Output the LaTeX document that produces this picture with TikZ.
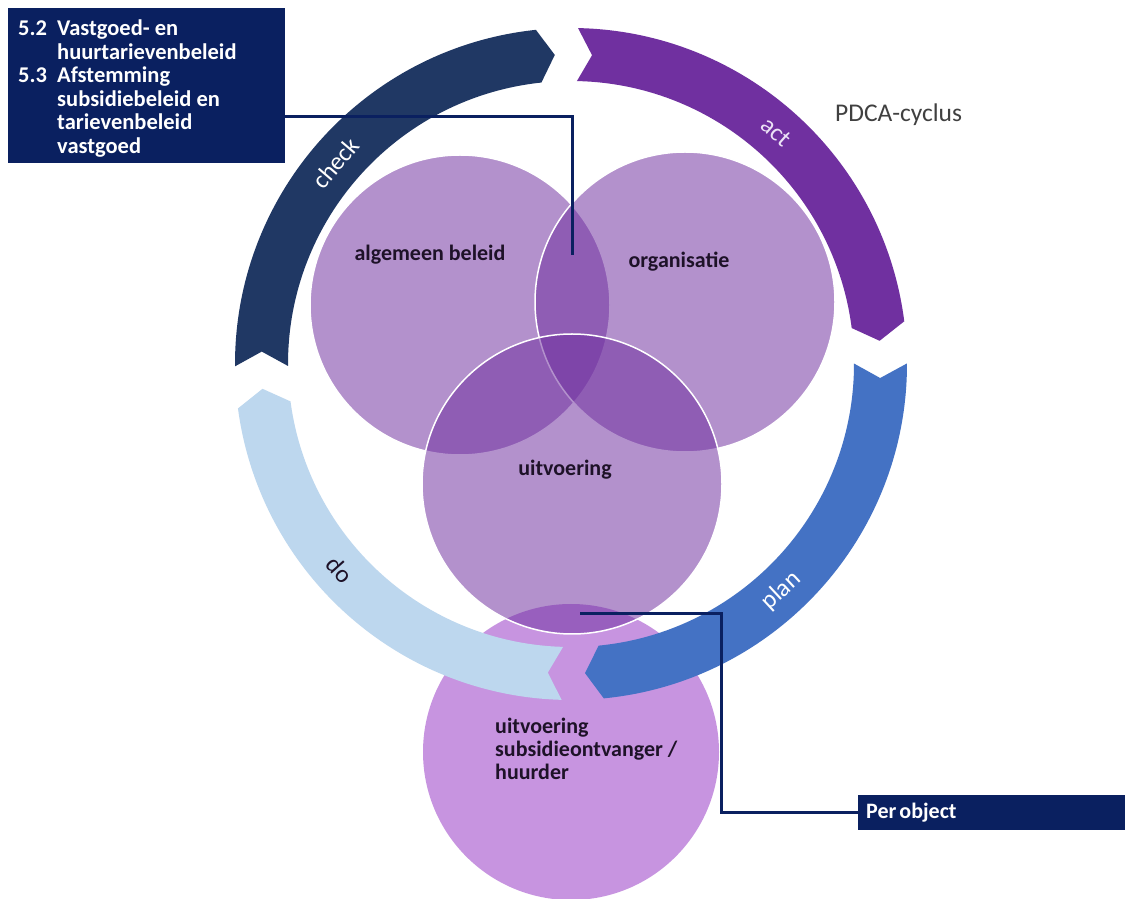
\documentclass[tikz,border=0pt]{standalone}
\usepackage{fontspec}
\setmainfont{Carlito}
\usetikzlibrary{calc}
\definecolor{navybox}{RGB}{10,32,96}
\definecolor{checkc}{RGB}{32,56,100}
\definecolor{actc}{RGB}{112,48,160}
\definecolor{planc}{RGB}{68,114,196}
\definecolor{doc}{RGB}{189,215,238}
\definecolor{circc}{RGB}{112,48,160}
\definecolor{botc}{RGB}{199,148,224}
\definecolor{labc}{RGB}{30,18,40}
\definecolor{greyt}{RGB}{64,64,64}
\definecolor{actt}{RGB}{236,226,246}
\newcommand\ringarrow[3]{%
  \fill[#1] ($(C)+(#2:336)$) arc[start angle=#2, end angle=#3, radius=336pt]
    -- ($(C)+({#3-3}:309.5)$) -- ($(C)+(#3:283)$)
    arc[start angle=#3, end angle=#2, radius=283pt]
    -- ($(C)+({#2-2.7}:309.5)$) -- cycle;}
\begin{document}
\begin{tikzpicture}[x=1pt,y=1pt,
  venn/.style={circle, inner sep=0pt, minimum size=300pt, fill=circc, fill opacity=0.53, draw=white, draw opacity=1, line width=1.5pt},
  lbl/.style={font=\fontsize{22}{23}\selectfont\bfseries, text=labc, inner sep=0pt},
  arclbl/.style={font=\fontsize{25}{30}\selectfont, inner sep=0pt},
  conn/.style={draw=navybox, line width=3pt},
  ]
\fill[white] (0,0) rectangle (1125,898);
\useasboundingbox (0,0) rectangle (1125,898);
\coordinate (C) at (571,534);
% circles
\node[circle, inner sep=0pt, minimum size=296pt, fill=botc] (cB) at (571,146) {};
\node[venn] (cA) at (460,593) {};
\node[venn] (cO) at (685,596) {};
\node[venn] (cU) at (572,414) {};
% ring arrows
\ringarrow{checkc}{180.4}{96}
\ringarrow{actc}{88.8}{7.3}
\ringarrow{planc}{0.1}{-84.4}
\ringarrow{doc}{268.4}{187.6}
\node[arclbl, text=white, rotate=49.5] (tcheck) at ($(C)+(139.5:309.5)$) {check};
\node[arclbl, text=actt, rotate=-41.5] (tact) at ($(C)+(48.5:309.5)$) {act};
\node[arclbl, text=white, rotate=42.8] (tplan) at ($(C)+(-47.2:309.5)$) {plan};
\node[arclbl, text=labc, rotate=-48.3] (tdo) at ($(C)+(221.7:309.5)$) {do};
% circle labels
\node[lbl] (tA) at (430,643) {algemeen beleid};
\node[lbl] (tO) at (679,636) {organisatie};
\node[lbl] (tU) at (565,428) {uitvoering};
\node[lbl, align=left, anchor=north west] (tB) at (495,182) {\rule{0pt}{17pt}uitvoering\\subsidieontvanger /\\huurder};
% PDCA
\node[anchor=west, inner sep=0pt, text=greyt, font=\fontsize{25.5}{30}\selectfont] (pdca) at (835,783) {PDCA-cyclus};
% boxes
\node[fill=navybox, minimum width=277pt, minimum height=155pt, inner sep=0pt, anchor=north west] (box52) at (8,890) {};
\node[anchor=north west, inner sep=0pt, text=white, align=left, font=\fontsize{22.5}{23.6}\selectfont\bfseries] (box52t) at (18,879.7)
  {\rule{0pt}{17pt}\makebox[39pt][l]{5.2}Vastgoed- en\\
   \hspace*{39pt}huurtarievenbeleid\\
   \makebox[39pt][l]{5.3}Afstemming\\
   \hspace*{39pt}subsidiebeleid en\\
   \hspace*{39pt}tarievenbeleid\\
   \hspace*{39pt}vastgoed};
\node[fill=navybox, minimum width=267pt, minimum height=35pt, inner xsep=8pt, text width=251pt, align=left, anchor=west, text=white, font=\fontsize{22}{26}\selectfont\bfseries] (perobj) at (858,85.5) {Per\hspace{3pt}object};
% connectors
\coordinate (lensA) at (572,643);
\coordinate (lensB) at (580,284);
\draw[conn] ([yshift=-30.5pt]box52.east) -| (lensA);
\draw[conn] (lensB) -- ++(141,0) |- (perobj.west);
\end{tikzpicture}
\end{document}
